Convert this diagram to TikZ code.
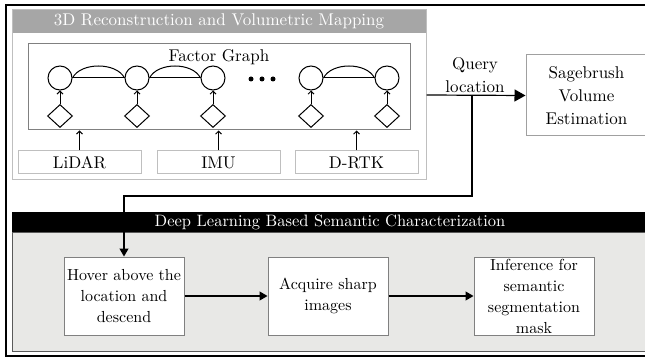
\documentclass[tikz,border=0pt]{standalone}
\usepackage{fontspec}
\setmainfont{lmroman10-regular}[Extension=.otf]
\usetikzlibrary{shapes.geometric,arrows.meta}
\definecolor{hdrgray}{RGB}{166,166,166}
\definecolor{lightborder}{RGB}{191,191,191}
\definecolor{midborder}{RGB}{128,128,128}
\definecolor{sageborder}{RGB}{160,160,160}
\definecolor{lowfill}{RGB}{232,232,230}
\definecolor{lowborder}{RGB}{90,90,90}
\begin{document}
\begin{tikzpicture}[x=1pt,y=-1pt,
  basefont/.style={font=\fontsize{17}{23}\selectfont},
  circ/.style={circle,draw,line width=1pt,minimum size=24,inner sep=0},
  diam/.style={diamond,draw,line width=1pt,minimum width=25,minimum height=23,inner sep=0},
  dotnode/.style={circle,fill,minimum size=5,inner sep=0},
  smallarrow/.style={line width=0.9pt,-{Straight Barb[length=3pt,width=6pt]}},
  sensorbox/.style={draw=lightborder,line width=1pt,minimum width=123,minimum height=23,inner sep=0,basefont},
  stepbox/.style={draw=midborder,fill=white,line width=1pt,minimum width=120,minimum height=78,inner sep=0,align=center,font=\fontsize{16}{21}\selectfont},
  bigarrow/.style={line width=1.2pt,-{Triangle[length=11pt,width=12pt]}},
  midarrow/.style={line width=1.2pt,-{Triangle[length=8pt,width=9pt]}}
]
\fill[white] (0,0) rectangle (645,358);
\useasboundingbox (0,0) rectangle (645,358);

% upper section
\node[fill=hdrgray,minimum width=414,minimum height=23,inner sep=0,text=white,basefont] (hdr) at (219,21.5) {3D Reconstruction and Volumetric Mapping};
\node[draw=lightborder,line width=1pt,minimum width=414,minimum height=170,inner sep=0] (upper) at (219,95) {};
\node[draw=midborder,line width=1pt,minimum width=382,minimum height=86,inner sep=0] (fg) at (219,87) {};
\node[basefont] (fglabel) at (219,57) {Factor Graph};

\foreach \i/\x in {1/60,2/137,3/213,4/311,5/387}{
  \node[circ] (c\i) at (\x,78) {};
  \node[diam] (d\i) at (\x,116) {};
  \draw[smallarrow] (d\i) -- (c\i);
}
\foreach \a/\b in {1/2,2/3,4/5}{
  \draw[line width=1pt] (c\a.east) -- (c\b.west);
  \draw[line width=1pt] (c\a.east) .. controls +(8,-16) and +(-8,-16) .. (c\b.west);
}
\node[dotnode] (dot1) at (251,79) {};
\node[dotnode] (dot2) at (262,79) {};
\node[dotnode] (dot3) at (273,79) {};

\node[sensorbox] (lidar) at (79.5,162.5) {LiDAR};
\node[sensorbox] (imu) at (218.5,162.5) {IMU};
\node[sensorbox] (drtk) at (356.5,162.5) {D-RTK};
\foreach \s in {lidar,imu,drtk}{
  \draw[smallarrow] (\s.north) -- (\s.north |- fg.south);
}

% right box
\node[draw=sageborder,line width=1pt,minimum width=121,minimum height=81,inner sep=0,align=center,basefont] (sage) at (586.5,95.5) {Sagebrush\\Volume\\Estimation};
\node[basefont,align=center] (qtext) at (475,75) {Query\\location};
\draw[bigarrow] (upper.east) -- (sage.west);

% lower section
\node[draw=lowborder,fill=lowfill,line width=1pt,minimum width=636,minimum height=119,inner sep=0] (lower) at (330,291.5) {};
\node[fill=black,minimum width=636,minimum height=20,inner sep=0,text=white,font=\fontsize{16.5}{20}\selectfont] (bar) at (330,222) {Deep Learning Based Semantic Characterization};

\node[stepbox] (hover) at (124,296) {Hover above the\\location and\\descend};
\node[stepbox] (acq) at (328,296) {Acquire sharp\\images};
\node[stepbox] (inf) at (534,296) {Inference for\\semantic\\segmentation\\mask};
\draw[midarrow] (hover) -- (acq);
\draw[midarrow] (acq) -- (inf);

\coordinate (br) at (472,95);
\coordinate (turn) at (472,196);
\draw[midarrow] (br) -- (turn) -| (hover.north);

% outer border
\draw[line width=2pt] (646,5) -- (6,5) -- (6,356) -- (646,356);
\end{tikzpicture}
\end{document}
